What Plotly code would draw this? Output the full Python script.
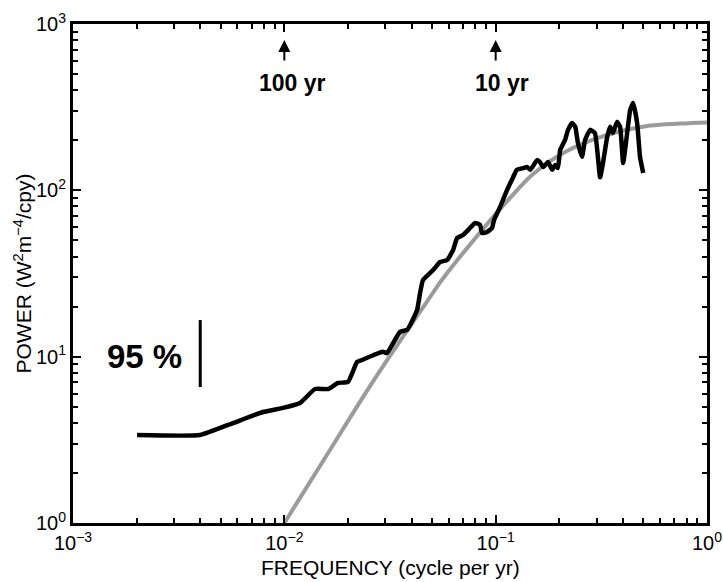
import numpy as np
import plotly.graph_objects as go

# Observed spectrum (black)
freq_obs = [0.00201, 0.00399, 0.00572, 0.00793, 0.00986, 0.01187, 0.01397, 0.0161, 0.01795, 0.0200,
            0.0221, 0.0233, 0.0263, 0.0293, 0.0306, 0.0324, 0.0353, 0.0381, 0.0394, 0.0425,
            0.0439, 0.0453, 0.0506, 0.0546, 0.0589, 0.0629, 0.0657, 0.0701, 0.0757, 0.0799,
            0.0844, 0.0862, 0.0910, 0.0961, 0.0983, 0.105, 0.113, 0.121, 0.126, 0.135,
            0.141, 0.146, 0.157, 0.162, 0.168, 0.177, 0.185, 0.191, 0.197, 0.202,
            0.213, 0.220, 0.230, 0.238, 0.245, 0.256, 0.265, 0.280, 0.295, 0.312,
            0.322, 0.337, 0.348, 0.359, 0.375, 0.388, 0.401, 0.419, 0.433, 0.447,
            0.467, 0.482, 0.499]
power_obs = [3.38, 3.38, 3.99, 4.65, 4.92, 5.27, 6.39, 6.39, 6.95, 7.05,
             9.29, 9.55, 10.2, 10.7, 10.5, 11.8, 14.1, 14.5, 15.5, 19.1,
             24.2, 28.9, 33.2, 37.1, 38.1, 43.8, 51.7, 53.9, 59.4, 63.7,
             61.9, 55.4, 56.2, 59.4, 66.4, 79.5, 100, 120, 133, 136,
             138, 133, 152, 148, 138, 148, 133, 142, 136, 175,
             201, 231, 254, 241, 193, 159, 201, 231, 221, 120,
             146, 209, 241, 221, 258, 241, 146, 221, 304, 335,
             254, 159, 127]

# Model spectrum (gray)
freq_model = [0.0100, 0.0160, 0.0263, 0.0474, 0.0563, 0.0972, 0.117, 0.150, 0.213, 0.329, 0.538, 0.75, 1.0]
power_model = [1.00, 2.6, 7.1, 21.5, 29.5, 69, 90, 125, 170, 213, 245, 252, 256]

# 95% confidence bar
ci_freq = [0.004, 0.004]
ci_power = [6.57, 16.6]

# Period markers
period_freq = [0.01, 0.1]
period_text = ["100 yr", "10 yr"]

x_tickvals = [1e-3, 1e-2, 1e-1, 1e0]
x_ticktext = ["10<sup>\u22123</sup>", "10<sup>\u22122</sup>", "10<sup>\u22121</sup>", "10<sup>0</sup>"]
y_tickvals = [1e0, 1e1, 1e2, 1e3]
y_ticktext = ["10<sup>0</sup>", "10<sup>1</sup>", "10<sup>2</sup>", "10<sup>3</sup>"]

FONT = "Liberation Sans, Arial, Helvetica, sans-serif"

fig = go.Figure()
fig.add_trace(go.Scatter(x=freq_model, y=power_model, mode="lines",
                         line=dict(color="#9b9b9b", width=4, shape="spline", smoothing=1.0),
                         hoverinfo="skip", showlegend=False))
fig.add_trace(go.Scatter(x=freq_obs, y=power_obs, mode="lines",
                         line=dict(color="black", width=4.5, shape="spline", smoothing=0.4),
                         showlegend=False))
fig.add_trace(go.Scatter(x=ci_freq, y=ci_power, mode="lines",
                         line=dict(color="black", width=3), showlegend=False))

minor_x = [m * 10.0 ** e for e in range(-3, 0) for m in range(2, 10)]
minor_y = [m * 10.0 ** e for e in range(0, 3) for m in range(2, 10)]

axis_common = dict(type="log", showgrid=False, zeroline=False, showline=True, linecolor="black",
                   linewidth=3, mirror="allticks", ticks="inside", ticklen=8, tickwidth=2,
                   tickcolor="black", automargin=False,
                   tickfont=dict(family=FONT, size=20, color="black"))

fig.update_xaxes(range=[-3, 0], tickmode="array", tickvals=x_tickvals, ticktext=x_ticktext,
                 minor=dict(tickmode="array", tickvals=minor_x, ticks="inside", ticklen=5,
                            tickwidth=1.5, tickcolor="black", showgrid=False),
                 ticklabelstandoff=0,
                 **axis_common)
fig.update_yaxes(range=[0, 3], tickmode="array", tickvals=y_tickvals, ticktext=y_ticktext,
                 minor=dict(tickmode="array", tickvals=minor_y, ticks="inside", ticklen=5,
                            tickwidth=1.5, tickcolor="black", showgrid=False),
                 **axis_common)

annotations = []
for f, t, sh in zip(period_freq, period_text, [8, 6]):
    annotations.append(dict(x=np.log10(f), y=2.904, xref="x", yref="y", text="", showarrow=True,
                            ax=0, ay=22, arrowhead=2, arrowsize=1.2, arrowwidth=2, arrowcolor="black"))
    annotations.append(dict(x=np.log10(f), y=2.646, xref="x", yref="y", text="<b>%s</b>" % t,
                            showarrow=False, xshift=sh,
                            font=dict(family=FONT, size=23, color="black")))
annotations.append(dict(x=np.log10(0.00217), y=1.0, xref="x", yref="y", text="<b>95 %</b>",
                        showarrow=False, font=dict(family=FONT, size=33, color="black")))
# axis titles
annotations.append(dict(x=0.5, y=0, xref="paper", yref="paper", yanchor="middle",
                        text="FREQUENCY (cycle per yr)", showarrow=False, yshift=-44,
                        font=dict(family=FONT, size=21, color="black")))
annotations.append(dict(x=0, y=0.5, xref="paper", yref="paper", xanchor="center",
                        text="POWER (W<sup>2</sup>m<sup>\u22124</sup>/cpy)", showarrow=False,
                        textangle=-90, xshift=-51,
                        font=dict(family=FONT, size=21, color="black")))

fig.update_layout(width=723, height=582, margin=dict(l=73, r=16, t=24, b=59, autoexpand=False),
                  plot_bgcolor="white", paper_bgcolor="white", annotations=annotations,
                  font=dict(family=FONT, color="black"))

fig.write_html("out.html")
